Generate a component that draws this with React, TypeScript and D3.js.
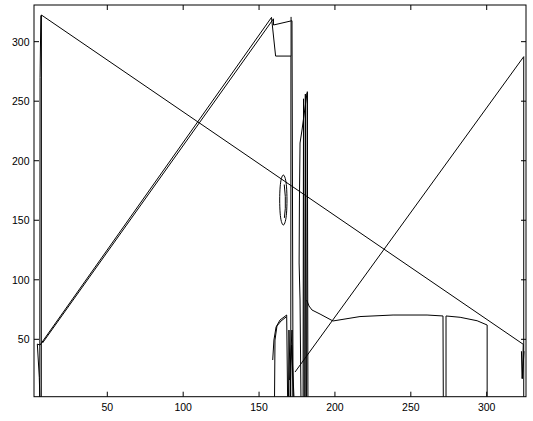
import React from "react";
import { scaleLinear, line, curveCardinalClosed } from "d3";

// axis ticks
const xTicks = [50, 100, 150, 200, 250, 300];
const yTicks = [50, 100, 150, 200, 250, 300];

// traced boundary lines (data units)
const longDiagonal: [number, number][] = [
  [6.5, 1.8], [6.6, 322.4], [324.1, 45.8], [323.5, 17], [324.6, 40],
];
const leftEdge: [number, number][] = [[5.5, 1.8], [5.7, 270], [6.2, 322]];
const leftWedge: [number, number][] = [[5.67, 45.2], [3.9, 46], [5.2, 18], [5.5, 1.8]];
const upperStrip: [number, number][] = [
  [5.67, 45.2], [158.2, 320.4], [160.9, 287.9], [171.1, 287.9], [171.1, 320.8],
];
const lowerStrip: [number, number][] = [
  [7.3, 46.9], [159.5, 319.2], [159.5, 314.0], [171.7, 317.6], [172.4, 1.8],
];
const stripDrop: [number, number][] = [[171.0, 287.9], [170.9, 1.8]];
const riseLine: [number, number][] = [[173.7, 22.5], [324.4, 287.4], [324.4, 1.8]];
const rightSpike: [number, number][] = [[322.9, 40], [323.3, 17]];
const ellipseOuter: [number, number][] = [
  [166, 188], [167.3, 185], [168.1, 178], [168.4, 167], [168.1, 156], [167.3, 149],
  [166, 146], [164.7, 149], [163.9, 156], [163.6, 167], [163.9, 178], [164.7, 185],
];
const ellipseInner: [number, number][] = [[166.6, 180], [167.3, 170], [167.3, 160], [166.7, 152]];
const thinCurve: [number, number][] = [
  [181.6, 256.9], [178.3, 225.8], [177.0, 214.9], [176.6, 167], [176.4, 114.1], [177.0, 83], [177.6, 1.8],
];
const spikeA: [number, number][] = [[179.0, 1.8], [179.3, 252], [179.7, 1.8]];
const spikeB: [number, number][] = [[180.2, 1.8], [180.5, 256], [180.9, 1.8]];
const spikeC: [number, number][] = [[181.3, 1.8], [181.8, 258], [182.2, 1.8]];
const shelfLeft: [number, number][] = [
  [181.4, 83], [182.9, 78], [184.9, 74.6], [190.2, 71.2], [198.7, 65.4], [216.5, 69.1],
  [238.3, 70.4], [260.7, 70.4], [271.2, 69.6], [271.4, 1.8],
];
const shelfRight: [number, number][] = [
  [273.2, 1.8], [273.2, 69.6], [282.5, 68.5], [293.7, 65.6], [300.3, 62], [300.3, 1.8],
];
const hookOuter: [number, number][] = [
  [159.0, 32.6], [159.8, 49.4], [161.2, 60.3], [163.8, 66.2], [168.2, 70.4], [168.8, 1.8],
];
const hookInner: [number, number][] = [
  [160.2, 1.8], [160.5, 49.4], [161.8, 61.2], [164.5, 65.4], [167.8, 68.7],
];
const wedgeA: [number, number][] = [[169.4, 1.8], [169.7, 57.8], [170.7, 1.8]];
const wedgeB: [number, number][] = [[170.4, 1.8], [171.4, 45.2], [173.0, 1.8]];
const wedgeC: [number, number][] = [[170.1, 15.8], [171.7, 57.8], [172.4, 1.8]];

const openLines = [
  longDiagonal, leftEdge, leftWedge, upperStrip, lowerStrip, stripDrop, riseLine,
  rightSpike, ellipseInner, thinCurve, spikeA, spikeB, spikeC, shelfLeft, shelfRight,
  hookOuter, hookInner, wedgeA, wedgeB, wedgeC,
];

const W = 533;
const H = 421;
const left = 34;
const top = 5;
const right = 526;
const bottom = 396.7;

export default function App() {
  const x = scaleLinear().domain([1.7, 325.9]).range([left, right]);
  const y = scaleLinear().domain([1.8, 330.8]).range([bottom, top]);
  const path = line<[number, number]>()
    .x((d) => x(d[0]))
    .y((d) => y(d[1]));
  const closed = line<[number, number]>()
    .x((d) => x(d[0]))
    .y((d) => y(d[1]))
    .curve(curveCardinalClosed);
  const font = "'Liberation Sans', Arial, Helvetica, sans-serif";

  return (
    <svg width={W} height={H} style={{ position: "absolute", left: 0, top: 0, background: "#fff" }}>
      <rect x={0} y={0} width={W} height={H} fill="#fff" />
      <g fill="none" stroke="#000" strokeWidth={1}>
        {openLines.map((pts, i) => (
          <path key={i} d={path(pts) || ""} />
        ))}
        <path d={closed(ellipseOuter) || ""} />
      </g>
      <rect x={left} y={top} width={right - left} height={bottom - top} fill="none" stroke="#000" strokeWidth={1} />
      <g stroke="#000" strokeWidth={1}>
        {xTicks.map((t) => (
          <g key={"x" + t}>
            <line x1={x(t)} x2={x(t)} y1={bottom} y2={bottom - 5} />
            <line x1={x(t)} x2={x(t)} y1={top} y2={top + 5} />
          </g>
        ))}
        {yTicks.map((t) => (
          <g key={"y" + t}>
            <line x1={left} x2={left + 5} y1={y(t)} y2={y(t)} />
            <line x1={right} x2={right - 5} y1={y(t)} y2={y(t)} />
          </g>
        ))}
      </g>
      <g fontFamily={font} fontSize={10.5} fill="#000">
        {xTicks.map((t) => (
          <text key={"xl" + t} x={x(t)} y={411} textAnchor="middle">
            {t}
          </text>
        ))}
        {yTicks.map((t) => (
          <text key={"yl" + t} x={29.5} y={y(t)} textAnchor="end" dominantBaseline="central">
            {t}
          </text>
        ))}
      </g>
    </svg>
  );
}
